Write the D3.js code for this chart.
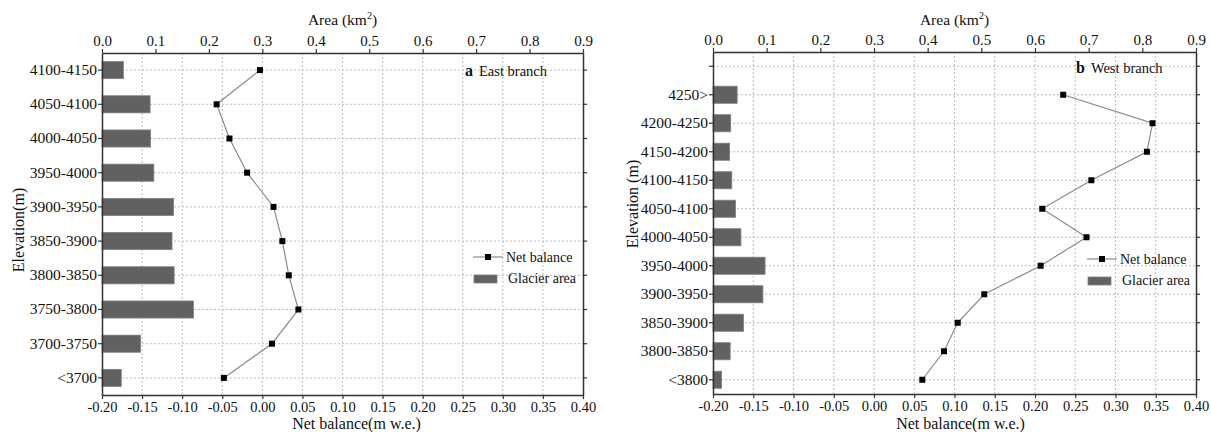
<!DOCTYPE html>
<html>
<head>
<meta charset="utf-8">
<script src="https://cdn.jsdelivr.net/npm/d3@7"></script>
<style>
  body { margin: 0; background: #fff; }
  svg text { font-family: "Liberation Serif", "Times New Roman", Times, "DejaVu Serif", serif !important; }
</style>
</head>
<body>
<script>
// elevation bands, top to bottom
const eastElev = ['4100-4150', '4050-4100', '4000-4050', '3950-4000', '3900-3950',
  '3850-3900', '3800-3850', '3750-3800', '3700-3750', '<3700'];
const eastArea = [0.040, 0.090, 0.091, 0.097, 0.134, 0.131, 0.135, 0.171, 0.072, 0.036];
const eastBalance = [-0.003, -0.057, -0.041, -0.019, 0.014, 0.025, 0.033, 0.045, 0.012, -0.048];

// west branch has an empty slot above the highest band
const westElev = ['', '4250>', '4200-4250', '4150-4200', '4100-4150', '4050-4100', '4000-4050',
  '3950-4000', '3900-3950', '3850-3900', '3800-3850', '<3800'];
const westArea = [null, 0.045, 0.033, 0.031, 0.035, 0.042, 0.052, 0.097, 0.093, 0.057, 0.032, 0.016];
const westBalance = [null, 0.235, 0.346, 0.339, 0.270, 0.209, 0.264, 0.207, 0.137, 0.104, 0.087, 0.060];

const areaTicks = [0, 0.1, 0.2, 0.3, 0.4, 0.5, 0.6, 0.7, 0.8, 0.9];
const balanceTicks = [-0.20, -0.15, -0.10, -0.05, 0.00, 0.05, 0.10, 0.15, 0.20, 0.25, 0.30, 0.35, 0.40];

const W = 1211, H = 432;
const svg = d3.select('body').append('svg')
  .attr('width', W)
  .attr('height', H);

function drawPanel(p) {
  const g = svg.append('g');
  const x = d3.scaleLinear().domain([-0.2, 0.4]).range([p.left, p.right]);
  const xa = d3.scaleLinear().domain([0, 0.9]).range([p.left, p.right]);
  const y = d3.scaleBand().domain(p.elev).range([p.top, p.bottom]).padding(0);
  const yc = d => y(d) + y.bandwidth() / 2;

  // grid
  g.append('g').selectAll('line')
    .data(balanceTicks.slice(1, -1))
    .join('line')
    .attr('x1', d => x(d)).attr('x2', d => x(d))
    .attr('y1', p.top).attr('y2', p.bottom)
    .attr('stroke', '#bcbcbc').attr('stroke-dasharray', '2,2');
  g.append('g').selectAll('line')
    .data(p.elev)
    .join('line')
    .attr('x1', p.left).attr('x2', p.right)
    .attr('y1', yc).attr('y2', yc)
    .attr('stroke', '#bcbcbc').attr('stroke-dasharray', '2,2');

  // bars
  const bh = y.bandwidth() * p.barFrac;
  const bars = p.elev.map((e, i) => ({ e, v: p.area[i] })).filter(d => d.v != null);
  g.append('g').selectAll('rect')
    .data(bars)
    .join('rect')
    .attr('x', xa(0))
    .attr('y', d => yc(d.e) - bh / 2)
    .attr('width', d => xa(d.v) - xa(0))
    .attr('height', bh)
    .attr('fill', '#616161')
    .attr('stroke', '#808080')
    .attr('stroke-width', 0.8);

  // net balance line
  const pts = p.elev.map((e, i) => ({ e, v: p.balance[i] })).filter(d => d.v != null);
  const line = d3.line().x(d => x(d.v)).y(d => yc(d.e));
  g.append('path')
    .attr('d', line(pts))
    .attr('fill', 'none')
    .attr('stroke', '#8a8a8a')
    .attr('stroke-width', 1.2);
  g.append('g').selectAll('rect')
    .data(pts)
    .join('rect')
    .attr('x', d => x(d.v) - 3)
    .attr('y', d => yc(d.e) - 3)
    .attr('width', 6).attr('height', 6)
    .attr('fill', '#000');

  // axes
  const axisStyle = sel => {
    sel.select('.domain').attr('stroke', '#333').attr('stroke-width', 1.5);
    sel.selectAll('.tick line').attr('stroke', '#333').attr('stroke-width', 1.2);
    sel.selectAll('.tick text').attr('fill', '#111');
  };
  g.append('g')
    .attr('transform', `translate(0,${p.bottom})`)
    .call(d3.axisBottom(x).tickValues(balanceTicks).tickSize(4).tickSizeOuter(0).tickPadding(3))
    .call(axisStyle)
    .selectAll('.tick text').attr('font-size', 14.5).text(d => d3.format('.2f')(d).replace('−', '-'));
  g.append('g')
    .attr('transform', `translate(0,${p.top})`)
    .call(d3.axisTop(xa).tickValues(areaTicks).tickFormat(d3.format('.1f')).tickSize(4).tickSizeOuter(0).tickPadding(3))
    .call(axisStyle)
    .selectAll('.tick text').attr('font-size', 15);
  g.append('g')
    .attr('transform', `translate(${p.left},0)`)
    .call(d3.axisLeft(y).tickSize(4).tickSizeOuter(0).tickPadding(1))
    .call(axisStyle)
    .selectAll('.tick text').attr('font-size', 15.5);
  g.append('g')
    .attr('transform', `translate(${p.right},0)`)
    .call(d3.axisRight(y).tickSize(4).tickSizeOuter(0).tickFormat(''))
    .call(axisStyle);

  // titles
  const cx = (p.left + p.right) / 2;
  const at = g.append('text')
    .attr('x', cx).attr('y', 25)
    .attr('text-anchor', 'middle')
    .attr('font-size', 15.5).attr('fill', '#111');
  at.append('tspan').text('Area (km');
  at.append('tspan').text('2').attr('font-size', 10).attr('dy', -6);
  at.append('tspan').text(')').attr('dy', 6);

  g.append('text')
    .attr('x', cx + p.xTitleShift).attr('y', 429)
    .attr('text-anchor', 'middle')
    .attr('font-size', 16).attr('fill', '#111')
    .text('Net balance(m w.e.)');

  g.append('text')
    .attr('transform', `translate(${p.yTitleX},${p.yTitleY}) rotate(-90)`)
    .attr('text-anchor', 'middle')
    .attr('dy', '0.35em')
    .attr('font-size', 16).attr('fill', '#111')
    .text(p.yTitle);

  // panel label
  const lab = g.append('text')
    .attr('x', p.labelX).attr('y', p.labelY)
    .attr('font-size', 14.5).attr('fill', '#111');
  lab.append('tspan').text(p.letter).attr('font-weight', 'bold').attr('font-size', 16);
  lab.append('tspan').text(p.branch).attr('dx', 6);

  // legend
  const lg = g.append('g').attr('transform', `translate(${p.legX},${p.legY})`);
  lg.append('line').attr('x1', 0).attr('x2', 30).attr('y1', 0).attr('y2', 0)
    .attr('stroke', '#8a8a8a').attr('stroke-width', 1.2);
  lg.append('rect').attr('x', 12).attr('y', -3).attr('width', 6).attr('height', 6).attr('fill', '#000');
  lg.append('text').attr('x', 33).attr('y', 5).attr('font-size', 14).attr('fill', '#111').text('Net balance');
  lg.append('rect').attr('x', 1).attr('y', 18).attr('width', 23).attr('height', 8)
    .attr('fill', '#616161').attr('stroke', '#808080').attr('stroke-width', 0.8);
  lg.append('text').attr('x', 35).attr('y', 26).attr('font-size', 14).attr('fill', '#111').text('Glacier area');
}

drawPanel({
  elev: eastElev, area: eastArea, balance: eastBalance,
  left: 102, right: 583, top: 53, bottom: 395, barFrac: 0.5,
  yTitle: 'Elevation(m)', yTitleX: 18, yTitleY: 230, xTitleShift: 14,
  letter: 'a', branch: 'East branch', labelX: 465, labelY: 76,
  legX: 473, legY: 257
});

drawPanel({
  elev: westElev, area: westArea, balance: westBalance,
  left: 713, right: 1196, top: 52, bottom: 394, barFrac: 0.6,
  yTitle: 'Elevation (m)', yTitleX: 632, yTitleY: 204, xTitleShift: 6,
  letter: 'b', branch: 'West branch', labelX: 1076, labelY: 73,
  legX: 1087, legY: 259
});
</script>
</body>
</html>
